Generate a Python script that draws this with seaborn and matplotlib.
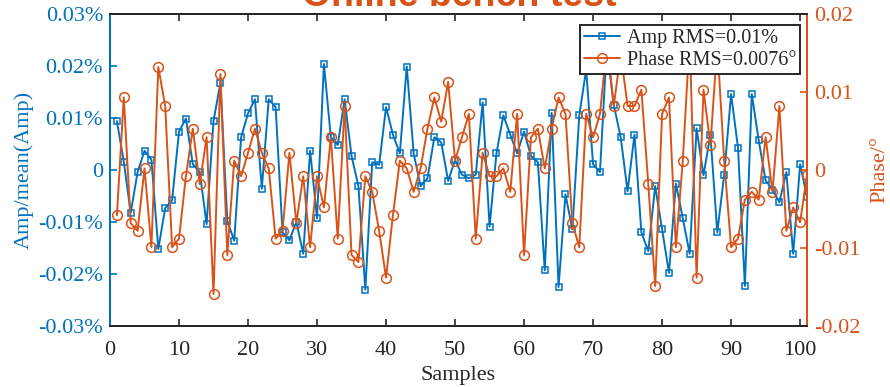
import numpy as np
import pandas as pd
import matplotlib
matplotlib.use("Agg")
import matplotlib.pyplot as plt
import seaborn as sns
from matplotlib.ticker import FuncFormatter

# data (samples 1..101)
amp_pct = [
    0.0094, 0.0016, -0.0082, -0.0004, 0.0037, 0.0020, -0.0152, -0.0073, -0.0058, 0.0074,
    0.0099, 0.0011, -0.0004, -0.0104, 0.0094, 0.0168, -0.0098, -0.0136, 0.0063, 0.0109,
    0.0136, -0.0036, 0.0136, 0.0121, -0.0120, -0.0135, -0.0100, -0.0161, 0.0037, -0.0093,
    0.0204, 0.0063, 0.0048, 0.0136, 0.0027, -0.0031, -0.0230, 0.0015, 0.0010, 0.0121,
    0.0068, 0.0032, 0.0199, 0.0032, -0.0031, -0.0016, 0.0063, 0.0053, -0.0021, 0.0019,
    -0.0009, -0.0016, -0.0009, 0.0130, -0.0109, 0.0032, 0.0105, 0.0068, 0.0032, 0.0074,
    0.0027, 0.0015, -0.0193, 0.0110, -0.0225, -0.0047, -0.0114, 0.0105, 0.0193, 0.0011,
    -0.0004, 0.0240, 0.0125, 0.0063, -0.0041, 0.0068, -0.0120, -0.0156, -0.0031, -0.0114,
    -0.0198, -0.0026, -0.0093, -0.0161, 0.0080, -0.0010, 0.0068, -0.0120, -0.0009, 0.0146,
    0.0043, -0.0223, 0.0146, 0.0057, -0.0020, -0.0038, -0.0062, -0.0004, -0.0161, 0.0011,
    -0.0052,
]
phase_deg = [
    -0.0058, 0.0093, -0.0068, -0.0078, 0.0002, -0.0099, 0.0132, 0.0082, -0.0099, -0.0088,
    -0.0008, 0.0053, -0.0018, 0.0042, -0.0159, 0.0123, -0.0109, 0.0012, -0.0008, 0.0022,
    0.0053, 0.0022, 0.0002, -0.0088, -0.0078, 0.0022, -0.0068, -0.0008, -0.0099, -0.0008,
    -0.0048, 0.0042, -0.0088, 0.0082, -0.0109, -0.0118, -0.0008, -0.0028, -0.0078, -0.0138,
    -0.0058, 0.0012, 0.0002, -0.0028, 0.0002, 0.0053, 0.0093, 0.0062, 0.0113, 0.0012,
    0.0042, 0.0072, -0.0088, 0.0022, -0.0008, -0.0008, 0.0002, -0.0028, 0.0072, -0.0109,
    0.0042, 0.0053, 0.0002, 0.0053, 0.0093, 0.0072, -0.0068, -0.0099, 0.0072, 0.0042,
    0.0072, 0.0160, 0.0082, 0.0150, 0.0082, 0.0082, 0.0103, -0.0018, -0.0149, 0.0072,
    0.0093, -0.0099, 0.0012, 0.0170, -0.0138, 0.0103, 0.0032, 0.0160, 0.0012, -0.0099,
    -0.0088, -0.0038, -0.0028, -0.0038, 0.0042, -0.0028, 0.0082, -0.0078, -0.0048, -0.0067,
    -0.0007,
]
samples = list(range(1, len(amp_pct) + 1))
amp_label = "Amp RMS=0.01%"
phase_label = "Phase RMS=0.0076°"
x_ticks = list(range(0, 101, 10))
amp_ticks = [-0.03, -0.02, -0.01, 0, 0.01, 0.02, 0.03]
phase_ticks = [-0.02, -0.01, 0, 0.01, 0.02]

BLUE = "#0072BD"
ORANGE = "#D95319"

sns.set_style("ticks")
plt.rcParams["font.family"] = ["Liberation Serif", "DejaVu Serif"]
plt.rcParams["axes.unicode_minus"] = False

df = pd.DataFrame({"Samples": samples, "Amp": amp_pct, "Phase": phase_deg})

fig = plt.figure(figsize=(8.9, 3.87), dpi=100)
ax = fig.add_axes([110 / 890, 61 / 387, 697 / 890, 312 / 387])
ax2 = ax.twinx()

sns.lineplot(data=df, x="Samples", y="Amp", ax=ax, color=BLUE, linewidth=1.4,
             marker="s", markersize=5, markerfacecolor="none",
             markeredgecolor=BLUE, markeredgewidth=1.1, label=amp_label, legend=False)
sns.lineplot(data=df, x="Samples", y="Phase", ax=ax2, color=ORANGE, linewidth=1.4,
             marker="o", markersize=7, markerfacecolor="none",
             markeredgecolor=ORANGE, markeredgewidth=1.1, label=phase_label, legend=False)

ax.set_xlim(0, 101)
ax.set_ylim(-0.03, 0.03)
ax2.set_ylim(-0.02, 0.02)
ax.set_xticks(x_ticks)
ax.set_yticks(amp_ticks)
ax2.set_yticks(phase_ticks)

ax.yaxis.set_major_formatter(FuncFormatter(lambda v, p: "0" if abs(v) < 1e-9 else f"{v:.2f}%"))
ax2.yaxis.set_major_formatter(FuncFormatter(lambda v, p: "0" if abs(v) < 1e-9 else f"{v:.2f}"))

ax.set_xlabel("Samples", fontsize=16, labelpad=4)
ax.set_ylabel("Amp/mean(Amp)", fontsize=16, color=BLUE, labelpad=3)
ax2.set_ylabel("Phase/°", fontsize=16, color=ORANGE, labelpad=7)

for a in (ax, ax2):
    for s in a.spines.values():
        s.set_linewidth(1.4)
        s.set_color("#262626")
ax2.spines["left"].set_color(BLUE)
ax2.spines["right"].set_color(ORANGE)
ax.spines["left"].set_color(BLUE)
ax.spines["right"].set_color(ORANGE)

ax.tick_params(axis="x", direction="in", top=True, length=5, width=1.2,
               labelsize=16, colors="#262626", pad=11)
ax.tick_params(axis="y", direction="in", length=5, width=1.2, labelsize=16,
               colors=BLUE, pad=5)
ax2.tick_params(axis="y", direction="in", length=5, width=1.2, labelsize=16,
                colors=ORANGE, pad=5)

h1, l1 = ax.get_legend_handles_labels()
h2, l2 = ax2.get_legend_handles_labels()
leg = ax2.legend(h1 + h2, l1 + l2, loc="upper right", bbox_to_anchor=(0.99, 0.965),
                 fontsize=14.5, frameon=True, fancybox=False, framealpha=1,
                 edgecolor="#262626", handlelength=1.8, handletextpad=0.3,
                 borderpad=0.2, labelspacing=0.15, borderaxespad=0)
leg.get_frame().set_linewidth(1.4)

# title, partly cut off at the top edge like the reference
fig.text(0.516, 1 - 6 / 387, "Online bench test", ha="center", va="baseline",
         fontsize=27, fontweight="bold", color=ORANGE,
         family=["Liberation Sans", "DejaVu Sans"])

fig.savefig("out.png", dpi=100)
